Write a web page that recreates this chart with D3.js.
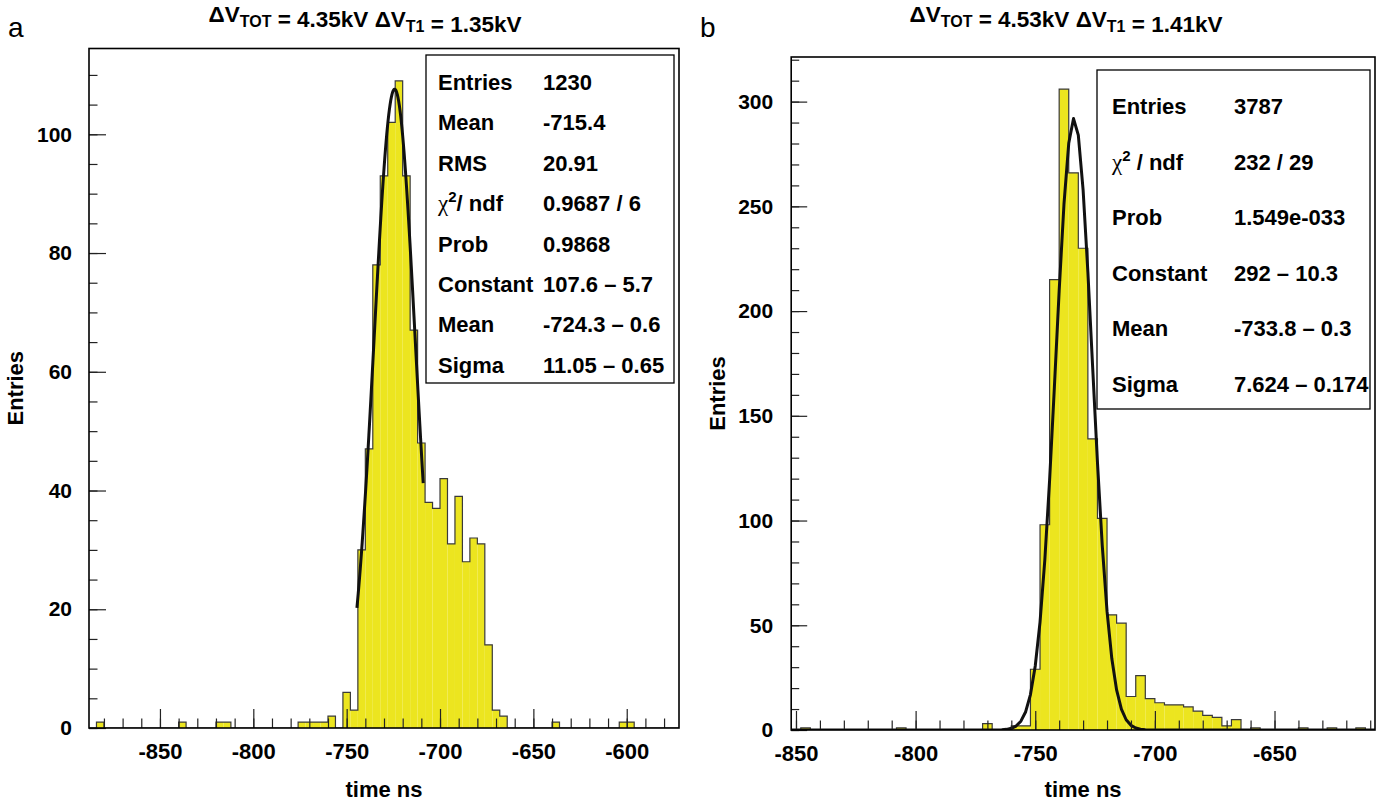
<!DOCTYPE html>
<html>
<head>
<meta charset="utf-8">
<script src="https://cdn.jsdelivr.net/npm/d3@7"></script>
<style>
  body { margin: 0; background: #fff; }
  svg text { font-family: "Liberation Sans", Arial, Helvetica, sans-serif; font-weight: bold; fill: #000; }
</style>
</head>
<body>
<svg id="chart" width="1384" height="801"></svg>
<script>
// ---------- data ----------
var binWidth = 4;

// panel a : 79 bins of 4 ns starting at -888
var binStartA = -888;
var countsA = [
  0, 1, 0, 0, 0, 0, 0, 0, 0, 0,
  0, 0, 1, 0, 0, 0, 0, 1, 1, 0,
  0, 0, 0, 0, 0, 0, 0, 0, 1, 1,
  1, 1, 2, 0, 6, 3, 30, 47, 78, 93,
  102, 109, 93, 67, 48, 38, 37, 42, 31, 39,
  28, 32, 31, 14, 3, 2, 0, 0, 0, 0,
  0, 0, 1, 0, 0, 0, 0, 0, 0, 0,
  0, 1, 1, 0, 0, 0, 0, 0, 0
];
var xTicksA = [-850, -800, -750, -700, -650, -600];
var yTicksA = [0, 20, 40, 60, 80, 100];
var fitParamsA = [107.6, -724.3, 11.05];   // constant, mean, sigma
var fitRangeA = [-744.5, -709];
var statLabelsA = ["Entries", "Mean", "RMS", "χ2/ ndf", "Prob", "Constant", "Mean", "Sigma"];
var statValuesA = ["1230", "-715.4", "20.91", "0.9687 / 6", "0.9868", "107.6 – 5.7", "-724.3 – 0.6", "11.05 – 0.65"];
var titleA = [["ΔV", "TOT"], [" = 4.35kV ΔV", "T1"], [" = 1.35kV", ""]];

// panel b : 61 bins of 4 ns starting at -852
var binStartB = -852;
var countsB = [
  0, 1, 0, 0, 0, 0, 0, 0, 0, 0,
  0, 1, 0, 0, 0, 0, 0, 0, 0, 0,
  3, 0, 0, 2, 2, 29, 98, 215, 306, 266,
  230, 139, 101, 55, 51, 16, 26, 15, 13, 12,
  12, 11, 9, 7, 6, 2, 5, 0, 1, 0,
  0, 0, 0, 1, 0, 0, 1, 0, 0, 1,
  0
];
var xTicksB = [-850, -800, -750, -700, -650];
var yTicksB = [0, 50, 100, 150, 200, 250, 300];
var fitParamsB = [292, -733.8, 7.624];
var fitRangeB = [-852, -608];
var statLabelsB = ["Entries", "χ2 / ndf", "Prob", "Constant", "Mean", "Sigma"];
var statValuesB = ["3787", "232 / 29", "1.549e-033", "292 – 10.3", "-733.8 – 0.3", "7.624 – 0.174"];
var titleB = [["ΔV", "TOT"], [" = 4.53kV ΔV", "T1"], [" = 1.41kV", ""]];

// ---------- drawing ----------
var svg = d3.select("#chart");
var yellow = "#ece51f";
var plainNum = function (d) { return String(d); };   // ascii hyphen, like the original

function drawPanel(p) {
  var g = svg.append("g");
  var x = d3.scaleLinear().domain(p.xDomain).range([p.left, p.right]);
  var y = d3.scaleLinear().domain(p.yDomain).range([p.bottom, p.top]);

  g.append("clipPath").attr("id", p.id + "clip")
    .append("rect")
    .attr("x", p.left).attr("y", p.top)
    .attr("width", p.right - p.left).attr("height", p.bottom - p.top);

  var bins = p.counts.map(function (c, i) {
    var lo = p.binStart + i * binWidth;
    return { lo: lo, hi: lo + binWidth, c: c };
  });

  var plot = g.append("g").attr("clip-path", "url(#" + p.id + "clip)");

  plot.selectAll("rect.bin").data(bins.filter(function (d) { return d.c > 0; }))
    .enter().append("rect").attr("class", "bin")
    .attr("x", function (d) { return x(d.lo); })
    .attr("y", function (d) { return y(d.c); })
    .attr("width", function (d) { return x(d.hi) - x(d.lo); })
    .attr("height", function (d) { return y(0) - y(d.c); })
    .attr("fill", yellow);

  // stepped outline of the histogram
  var pts = [[bins[0].lo, 0]];
  bins.forEach(function (d) { pts.push([d.lo, d.c]); pts.push([d.hi, d.c]); });
  pts.push([bins[bins.length - 1].hi, 0]);
  plot.append("path")
    .attr("d", d3.line().x(function (d) { return x(d[0]); }).y(function (d) { return y(d[1]); })(pts))
    .attr("fill", "none").attr("stroke", "#3a3a3a").attr("stroke-width", 1.2);

  // gaussian fit
  var npx = p.npx;
  var fx = d3.range(npx + 1).map(function (i) {
    return p.fitRange[0] + i * (p.fitRange[1] - p.fitRange[0]) / npx;
  });
  var gauss = function (t) {
    var z = (t - p.fit[1]) / p.fit[2];
    return p.fit[0] * Math.exp(-0.5 * z * z);
  };
  plot.append("path")
    .attr("d", d3.line().x(function (t) { return x(t); }).y(function (t) { return y(gauss(t)); })(fx))
    .attr("fill", "none").attr("stroke", "#111").attr("stroke-width", 3)
    .attr("stroke-linejoin", "round");

  // axes (ticks drawn inside the frame)
  var ax = g.append("g").attr("transform", "translate(0," + p.bottom + ")");
  ax.call(d3.axisBottom(x).tickValues(p.xTicks).tickSize(-p.xMajor).tickPadding(p.xPad).tickFormat(plainNum));
  ax.append("g").call(d3.axisBottom(x).tickValues(p.xMinor).tickSize(-p.xMajor / 2).tickFormat(""));
  ax.selectAll(".tick text").style("font-size", "22px");
  var ay = g.append("g").attr("transform", "translate(" + p.left + ",0)");
  ay.call(d3.axisLeft(y).tickValues(p.yTicks).tickSize(-p.yMajor).tickPadding(p.yPad).tickFormat(plainNum));
  ay.append("g").call(d3.axisLeft(y).tickValues(p.yMinor).tickSize(-p.yMajor / 2).tickFormat(""));
  ay.selectAll(".tick text").style("font-size", "21px");
  g.selectAll(".domain").remove();
  g.selectAll(".tick line").attr("stroke", "#222").attr("stroke-width", 1.2);
  g.selectAll(".tick text").style("font-family", "Liberation Sans, Arial, sans-serif").style("font-weight", "bold");

  g.append("rect")
    .attr("x", p.left).attr("y", p.top)
    .attr("width", p.right - p.left).attr("height", p.bottom - p.top)
    .attr("fill", "none").attr("stroke", "#000").attr("stroke-width", 1.6);

  // stats box
  var sb = p.stats;
  g.append("rect")
    .attr("x", sb.x0).attr("y", sb.y0).attr("width", sb.x1 - sb.x0).attr("height", sb.y1 - sb.y0)
    .attr("fill", "#fff").attr("stroke", "#000").attr("stroke-width", 1.3);
  p.statLabels.forEach(function (lab, i) {
    var cy = sb.row0 + i * sb.dy + 8;
    var t = g.append("text").attr("x", sb.lx).attr("y", cy).style("font-size", "22px");
    if (lab.charAt(0) === "χ") {
      t.append("tspan").text("χ").style("font-family", "Liberation Serif, serif").style("font-weight", "normal").style("font-size", "23px");
      t.append("tspan").text("2").attr("dy", -9).style("font-size", "15px");
      t.append("tspan").text(lab.slice(2)).attr("dy", 9);
    } else {
      t.text(lab);
    }
    g.append("text").attr("x", sb.vx).attr("y", cy).style("font-size", "22px").text(p.statValues[i]);
  });

  // title with subscripts
  var tt = g.append("text").attr("x", p.titleX).attr("y", 22).attr("text-anchor", "middle").style("font-size", "22.5px");
  p.title.forEach(function (part) {
    tt.append("tspan").text(part[0]);
    if (part[1]) {
      tt.append("tspan").text(part[1]).attr("dy", 5).style("font-size", "16px");
      tt.append("tspan").attr("dy", -5).text("");
    }
  });

  g.append("text").attr("x", p.panelX).attr("y", 37)
    .style("font-weight", "normal").style("font-size", "28px").text(p.panel);

  g.append("text").attr("x", (p.left + p.right) / 2).attr("y", 797)
    .attr("text-anchor", "middle").style("font-size", "22px").text("time ns");
  g.append("text")
    .attr("transform", "translate(" + p.yTitleX + "," + (p.top + p.bottom) / 2 + ") rotate(-90)")
    .attr("text-anchor", "middle").style("font-size", "22px").text("Entries");
}

drawPanel({
  id: "a", panel: "a", panelX: 8,
  left: 89, right: 679, top: 48.5, bottom: 728,
  xDomain: [-888, -572], yDomain: [0, 114.45],
  binStart: binStartA, counts: countsA,
  xTicks: xTicksA, xMinor: d3.range(-880, -572, 10),
  yTicks: yTicksA, yMinor: d3.range(0, 114, 5),
  xMajor: 19, yMajor: 17, xPad: 15, yPad: 17,
  fit: fitParamsA, fitRange: fitRangeA, npx: 100,
  stats: { x0: 426, y0: 55, x1: 674, y1: 383, lx: 438, vx: 543, row0: 82, dy: 40.4 },
  statLabels: statLabelsA, statValues: statValuesA,
  title: titleA, titleX: 365, yTitleX: 23
});

drawPanel({
  id: "b", panel: "b", panelX: 700,
  left: 791.2, right: 1375, top: 57, bottom: 730,
  xDomain: [-852, -608], yDomain: [0, 321.3],
  binStart: binStartB, counts: countsB,
  xTicks: xTicksB, xMinor: d3.range(-850, -608, 10),
  yTicks: yTicksB, yMinor: d3.range(0, 321, 10),
  xMajor: 19, yMajor: 16, xPad: 15, yPad: 18,
  fit: fitParamsB, fitRange: fitRangeB, npx: 122,
  stats: { x0: 1097, y0: 70, x1: 1370, y1: 409, lx: 1112, vx: 1234, row0: 106, dy: 55.6 },
  statLabels: statLabelsB, statValues: statValuesB,
  title: titleB, titleX: 1066, yTitleX: 725
});
</script>
</body>
</html>
